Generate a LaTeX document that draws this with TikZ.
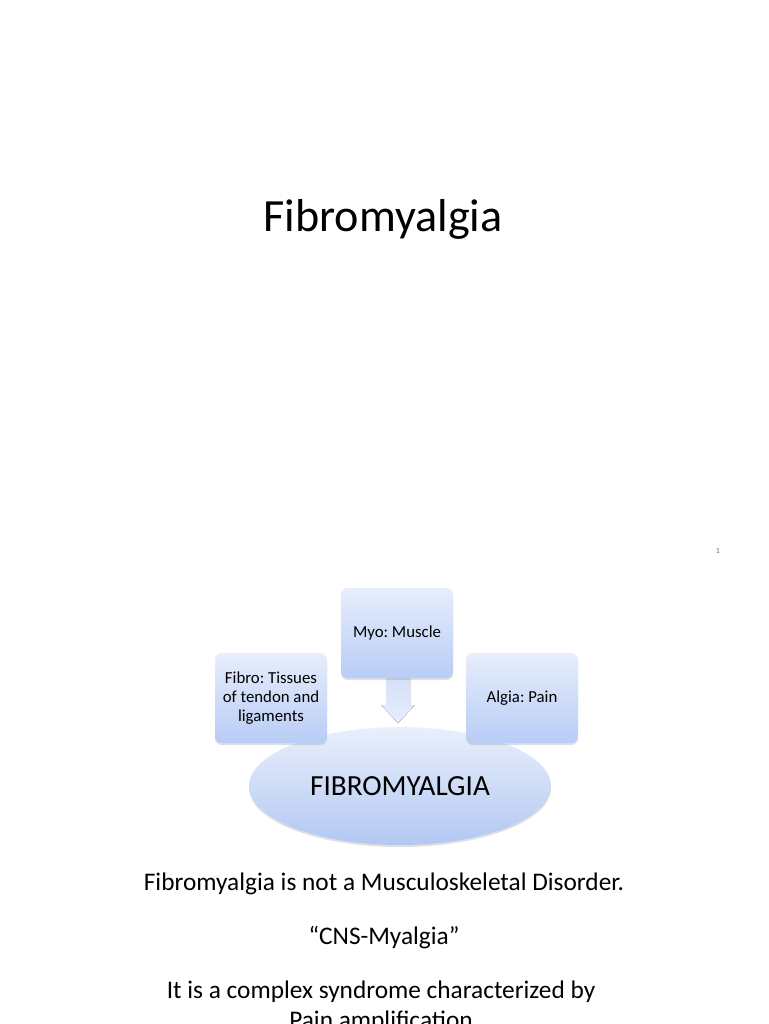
\documentclass[tikz,border=0pt]{standalone}
\usepackage{fontspec}
\setmainfont{Carlito}
\frenchspacing
\usetikzlibrary{shapes.geometric,shadows,shapes.arrows}
\definecolor{boxtop}{HTML}{E7EEFC}
\definecolor{boxbot}{HTML}{B8CCF6}
\definecolor{elltop}{HTML}{E9F0FC}
\definecolor{ellbot}{HTML}{B3C7F2}
\tikzset{
  termbox/.style={rectangle, rounded corners=5pt, top color=boxtop, bottom color=boxbot,
    draw=none, minimum width=84pt, minimum height=67.5pt, align=center,
    font=\fontsize{12.6pt}{14pt}\selectfont,
    drop shadow={opacity=0.25, shadow xshift=0pt, shadow yshift=-1.5pt}},
  mainell/.style={ellipse, top color=elltop, bottom color=ellbot, draw=none,
    minimum width=226.5pt, minimum height=88.5pt, inner sep=0pt,
    font=\fontsize{21.9pt}{24pt}\selectfont,
    drop shadow={opacity=0.25, shadow xshift=0pt, shadow yshift=-1.5pt}},
  bodytext/.style={anchor=base, font=\fontsize{19pt}{22pt}\selectfont},
}
\begin{document}
\begin{tikzpicture}[x=0.75pt, y=-0.75pt]
\useasboundingbox (0,0) rectangle (768,1024);
\clip (0,0) rectangle (768,1024);
\node[anchor=base, font=\fontsize{34.6pt}{40pt}\selectfont] (title) at (383,231) {Fibromyalgia};
\node[anchor=base, font=\fontsize{6pt}{7pt}\selectfont, text=black!55] (pnum) at (718,553) {1};
% ellipse
\node[mainell] (fm) at (400,786) {FIBROMYALGIA};
% arrow
\coordinate (atop) at (398,678);
\coordinate (atip) at (398,723);
\fill[top color=boxtop!60!boxbot, bottom color=boxtop, draw=none]
  (386,678) -- (410,678) -- (410,705) -- (415,705) -- (398,723) -- (381,705) -- (386,705) -- cycle;
% boxes
\node[termbox] (myo) at (397,633) {Myo: Muscle};
\node[termbox] (fibro) at (271,698) {Fibro: Tissues\\of tendon and\\ligaments};
\node[termbox] (algia) at (522,698) {Algia: Pain};
% texts
\node[bodytext] (t1) at (384,890) {Fibromyalgia is not a Musculoskeletal Disorder.};
\node[bodytext] (t2) at (384,944) {“CNS-Myalgia”};
\node[bodytext] (t3) at (381,998) {It is a complex syndrome characterized by};
\node[bodytext] (t4) at (381,1028) {Pain amplification};
\end{tikzpicture}
\end{document}
